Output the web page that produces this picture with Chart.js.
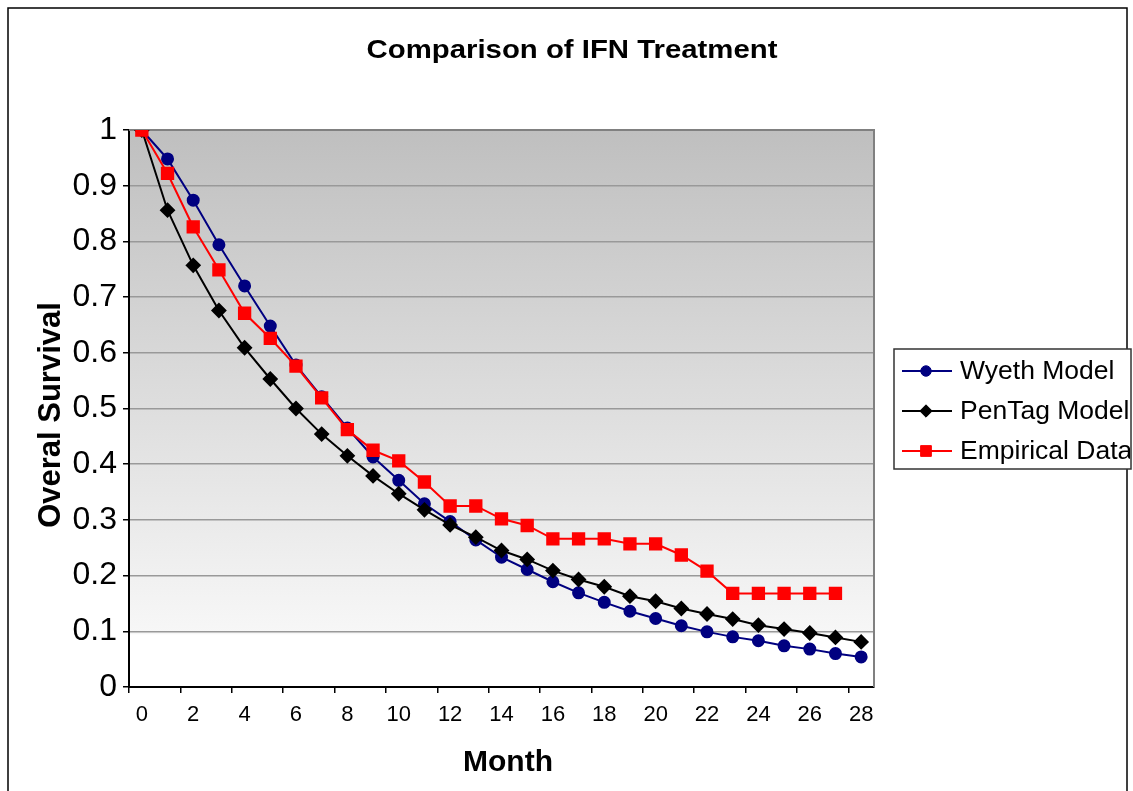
<!DOCTYPE html>
<html>
<head>
<meta charset="utf-8">
<script src="https://cdn.jsdelivr.net/npm/chart.js@4/dist/chart.umd.min.js"></script>
<style>
  body { margin: 0; background: #fff; }
  canvas { display: block; }
</style>
</head>
<body>
<canvas id="grafico" width="1133" height="791"></canvas>
<script>
// dados
const meses = ['0', '1', '2', '3', '4', '5', '6', '7', '8', '9', '10', '11', '12', '13', '14',
               '15', '16', '17', '18', '19', '20', '21', '22', '23', '24', '25', '26', '27', '28'];
const wyeth = [1.0, 0.948, 0.874, 0.794, 0.720, 0.648, 0.578, 0.521, 0.465, 0.413, 0.371, 0.329, 0.297, 0.264, 0.233,
               0.211, 0.189, 0.169, 0.152, 0.136, 0.123, 0.110, 0.099, 0.090, 0.083, 0.074, 0.068, 0.060, 0.054];
const pentag = [1.0, 0.856, 0.757, 0.676, 0.609, 0.553, 0.500, 0.454, 0.415, 0.379, 0.347, 0.318, 0.291, 0.269, 0.245,
                0.229, 0.209, 0.193, 0.180, 0.163, 0.154, 0.141, 0.131, 0.122, 0.111, 0.104, 0.097, 0.089, 0.081];
const empirico = [1.0, 0.922, 0.826, 0.749, 0.671, 0.626, 0.576, 0.519, 0.462, 0.425, 0.406, 0.368, 0.325, 0.325, 0.302,
                  0.290, 0.266, 0.266, 0.266, 0.257, 0.257, 0.237, 0.208, 0.168, 0.168, 0.168, 0.168, 0.168, null];
const rotulosY = ['0', '0.1', '0.2', '0.3', '0.4', '0.5', '0.6', '0.7', '0.8', '0.9', '1'];
const nomesSeries = ['Wyeth Model', 'PenTag Model', 'Empirical Data'];

const FONTE = '"Liberation Sans", Arial, sans-serif';

// fundo, bordas, títulos e legenda desenhados à mão
const decoracao = {
    id: 'decoracao',
    beforeDraw(chart) {
        const { ctx, chartArea: a } = chart;
        ctx.save();
        const grad = ctx.createLinearGradient(0, a.top, 0, a.bottom);
        grad.addColorStop(0, '#bfbfbf');
        grad.addColorStop(0.905, '#f7f7f7');
        grad.addColorStop(0.906, '#ffffff');
        grad.addColorStop(1, '#ffffff');
        ctx.fillStyle = grad;
        ctx.fillRect(a.left, a.top, a.right - a.left, a.bottom - a.top);

        // moldura externa
        ctx.strokeStyle = '#000';
        ctx.lineWidth = 1.5;
        ctx.strokeRect(8, 8, 1119, 800);
        ctx.restore();
    },
    beforeDatasetsDraw(chart) {
        const { ctx, chartArea: a } = chart;
        ctx.save();
        ctx.strokeStyle = '#808080';
        ctx.lineWidth = 2;
        ctx.beginPath();
        ctx.moveTo(a.left, a.top);
        ctx.lineTo(a.right, a.top);
        ctx.lineTo(a.right, a.bottom);
        ctx.stroke();
        ctx.restore();
    },
    afterDraw(chart) {
        const ctx = chart.ctx;
        ctx.save();
        ctx.fillStyle = '#000';
        ctx.textAlign = 'center';
        ctx.textBaseline = 'middle';

        // título (esticado na horizontal como no original)
        ctx.font = 'bold 26px ' + FONTE;
        const titulo = 'Comparison of IFN Treatment';
        const sx = 411 / ctx.measureText(titulo).width;
        ctx.save();
        ctx.translate(572, 51);
        ctx.scale(sx, 1);
        ctx.fillText(titulo, 0, 0);
        ctx.restore();

        ctx.font = 'bold 30px ' + FONTE;
        ctx.fillText('Month', 508, 763);

        ctx.save();
        ctx.font = 'bold 31px ' + FONTE;
        ctx.translate(51, 415);
        ctx.rotate(-Math.PI / 2);
        ctx.fillText('Overal Survival', 0, 0);
        ctx.restore();

        // legenda
        ctx.fillStyle = '#fff';
        ctx.fillRect(894, 349, 237, 120);
        ctx.strokeStyle = '#333';
        ctx.lineWidth = 1.5;
        ctx.strokeRect(894, 349, 237, 120);

        ctx.save();
        ctx.beginPath();
        ctx.rect(894, 349, 236, 120);
        ctx.clip();
        const linhasY = [371, 411, 451];
        chart.data.datasets.forEach((ds, i) => {
            const y = linhasY[i];
            ctx.strokeStyle = ds.borderColor;
            ctx.lineWidth = 2;
            ctx.beginPath();
            ctx.moveTo(902, y);
            ctx.lineTo(952, y);
            ctx.stroke();
            ctx.fillStyle = ds.pointBackgroundColor;
            ctx.strokeStyle = ds.pointBorderColor;
            ctx.lineWidth = 1;
            Chart.helpers.drawPoint(ctx, {
                pointStyle: ds.pointStyle,
                radius: ds.pointRadius * 0.95,
                borderWidth: 1
            }, 926, y);
            ctx.fillStyle = '#000';
            ctx.textAlign = 'left';
            ctx.font = '26.5px ' + FONTE;
            ctx.fillText(ds.label, 960, y + 1);
        });
        ctx.restore();
        ctx.restore();
    }
};

new Chart(document.getElementById('grafico'), {
    type: 'line',
    data: {
        labels: meses,
        datasets: [
            {
                label: nomesSeries[0],
                data: wyeth,
                borderColor: '#000080',
                backgroundColor: '#000080',
                pointBackgroundColor: '#000080',
                pointBorderColor: '#000080',
                pointStyle: 'circle',
                pointRadius: 5.5,
                borderWidth: 2,
                order: 2
            },
            {
                label: nomesSeries[1],
                data: pentag,
                borderColor: '#000000',
                backgroundColor: '#000000',
                pointBackgroundColor: '#000000',
                pointBorderColor: '#000000',
                pointStyle: 'rectRot',
                pointRadius: 6.5,
                borderWidth: 2,
                order: 1
            },
            {
                label: nomesSeries[2],
                data: empirico,
                borderColor: '#ff0000',
                backgroundColor: '#ff0000',
                pointBackgroundColor: '#ff0000',
                pointBorderColor: '#ff0000',
                pointStyle: 'rect',
                pointRadius: 8,
                borderWidth: 2,
                order: 0
            }
        ]
    },
    options: {
        responsive: false,
        animation: false,
        devicePixelRatio: 1,
        layout: { padding: { left: 0, top: 130, right: 259, bottom: 0 } },
        plugins: {
            legend: { display: false },
            title: { display: false },
            tooltip: { enabled: false }
        },
        elements: {
            line: { tension: 0 },
            point: { borderWidth: 1 }
        },
        scales: {
            x: {
                type: 'category',
                offset: true,
                afterFit: s => { s.height = 104; },
                grid: {
                    offset: true,
                    drawOnChartArea: false,
                    drawTicks: true,
                    tickLength: 6,
                    tickColor: ctx => (ctx.index % 2 === 0 && ctx.index < meses.length) ? '#000' : 'rgba(0,0,0,0)',
                    lineWidth: 1.5
                },
                border: { color: '#000', width: 2 },
                ticks: {
                    autoSkip: false,
                    maxRotation: 0,
                    padding: 9,
                    color: '#000',
                    font: { family: FONTE, size: 22 },
                    callback: (v, i) => i % 2 === 0 ? meses[i] : ''
                }
            },
            y: {
                min: 0,
                max: 1,
                afterFit: s => { s.width = 129; },
                grid: {
                    color: '#999',
                    lineWidth: 1.5,
                    tickLength: 6,
                    tickColor: '#000'
                },
                border: { color: '#000', width: 2 },
                ticks: {
                    stepSize: 0.1,
                    padding: 6,
                    color: '#000',
                    font: { family: FONTE, size: 32 },
                    callback: (v, i) => rotulosY[i]
                }
            }
        }
    },
    plugins: [decoracao]
});
</script>
</body>
</html>
